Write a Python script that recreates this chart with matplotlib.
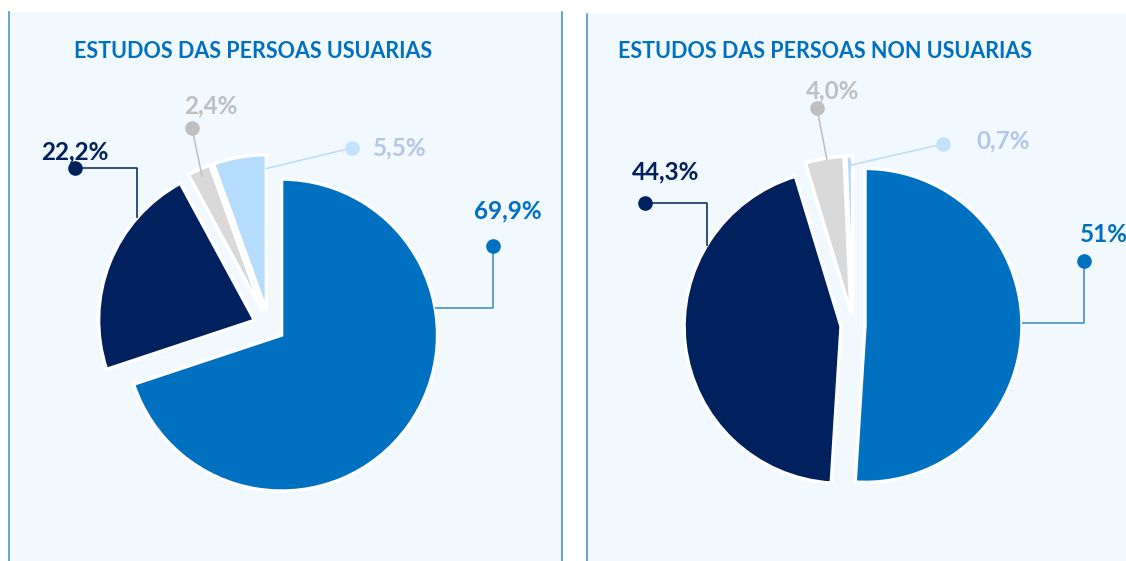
import numpy as np
import matplotlib
matplotlib.use("Agg")
from matplotlib import pyplot as plt

plt.rcParams['font.family'] = ['Lato', 'DejaVu Sans']

# Datos
titulos = ["ESTUDOS DAS PERSOAS USUARIAS", "ESTUDOS DAS PERSOAS NON USUARIAS"]
usuarias = [69.9, 22.2, 2.4, 5.5]
non_usuarias = [51.0, 44.3, 4.0, 0.7]
etiquetas_usuarias = ["69,9%", "22,2%", "2,4%", "5,5%"]
etiquetas_non = ["51%", "44,3%", "4,0%", "0,7%"]

cores = ['#0070c0', '#00205e', '#d9d9d9', '#b5dcfc']
cores_texto = ['#0070c0', '#00205e', '#bfbfbf', '#b4c6e9']
cores_liña = ['#3a86cc', '#00205e', '#bfbfbf', '#bcdcf8']
cores_punto = ['#0070c0', '#00205e', '#bfbfbf', '#c4e2fb']

fondo = '#f1f8fe'
borde = '#4b93d6'

W, H = 1126, 561

# paneis en pixeles: (x0, ancho, alto), centro do pastel, radio, separacion
paneis = [
    dict(x0=9, w=553, h=549, centro=(260, 235), radio=156, sep=15.5, bordes=['left', 'right'],
         tx=65,
         # (modo angulo, angulo, fraccion radio, punto, texto, tipo)
         guias=[(None, 10, 1.0, (484, 315), (499, 350), 'v'),
                (None, 139, 1.0, (66, 393), (66, 409), 'h'),
                ('mid', 0, 0.95, (183, 433), (202, 455), 's'),
                ('t1', 0.4, 0.91, (343, 413), (391, 413), 's')]),
    dict(x0=587, w=539, h=547, centro=(266, 236), radio=157, sep=12, bordes=['left'],
         tx=31,
         guias=[(None, 1, 1.0, (497, 300), (517, 326), 'v'),
                (None, 149, 1.0, (58, 358), (79, 389), 'h'),
                ('mid', -0.8, 0.99, (230, 453), (246, 470), 's'),
                ('mid', 0, 0.94, (356, 417), (416, 420), 's')]),
]

datos = [usuarias, non_usuarias]
etiquetas = [etiquetas_usuarias, etiquetas_non]

fig = plt.figure(figsize=(W / 100, H / 100), dpi=100)
fig.patch.set_facecolor('white')

for p, valores, textos, titulo in zip(paneis, datos, etiquetas, titulos):
    ax = fig.add_axes([p['x0'] / W, 0, p['w'] / W, p['h'] / H])
    wedges, _ = ax.pie(valores, colors=cores, startangle=90, counterclock=False,
                       center=p['centro'], radius=p['radio'],
                       explode=[p['sep']] * len(valores),
                       wedgeprops=dict(edgecolor='white', linewidth=2.5))
    ax.set_xlim(0, p['w'])
    ax.set_ylim(0, p['h'])
    ax.set_frame_on(True)
    ax.set_facecolor(fondo)
    for nome, sp in ax.spines.items():
        if nome in p['bordes']:
            sp.set_color(borde)
            sp.set_linewidth(1.2)
        else:
            sp.set_visible(False)

    ax.text(p['tx'], 510, titulo, color='#0070c0', fontsize=15.5, fontweight='bold',
            ha='left', va='center')

    for i, (w, txt, g) in enumerate(zip(wedges, textos, p['guias'])):
        modo, ang, frac, punto, pos_txt, tipo = g
        if modo == 'mid':
            a = 0.5 * (w.theta1 + w.theta2) + ang
        elif modo == 't1':
            a = w.theta1 + ang
        else:
            a = ang
        cx, cy = w.center
        ax_ = cx + w.r * frac * np.cos(np.radians(a))
        ay_ = cy + w.r * frac * np.sin(np.radians(a))
        px, py = punto
        if tipo == 'v':
            xs, ys = [px, px, ax_], [py, ay_, ay_]
        elif tipo == 'h':
            xs, ys = [px, ax_, ax_], [py, py, ay_]
        else:
            xs, ys = [px, ax_], [py, ay_]
        ax.plot(xs, ys, color=cores_liña[i], linewidth=1.1, zorder=3,
                solid_capstyle='butt', clip_on=False)
        ax.plot([px], [py], 'o', color=cores_punto[i], markersize=9.5, zorder=4,
                clip_on=False)
        ax.text(pos_txt[0], pos_txt[1], txt, color=cores_texto[i], fontsize=17.5,
                fontweight='bold', ha='center', va='center', clip_on=False)

fig.savefig('out.png', dpi=100)
